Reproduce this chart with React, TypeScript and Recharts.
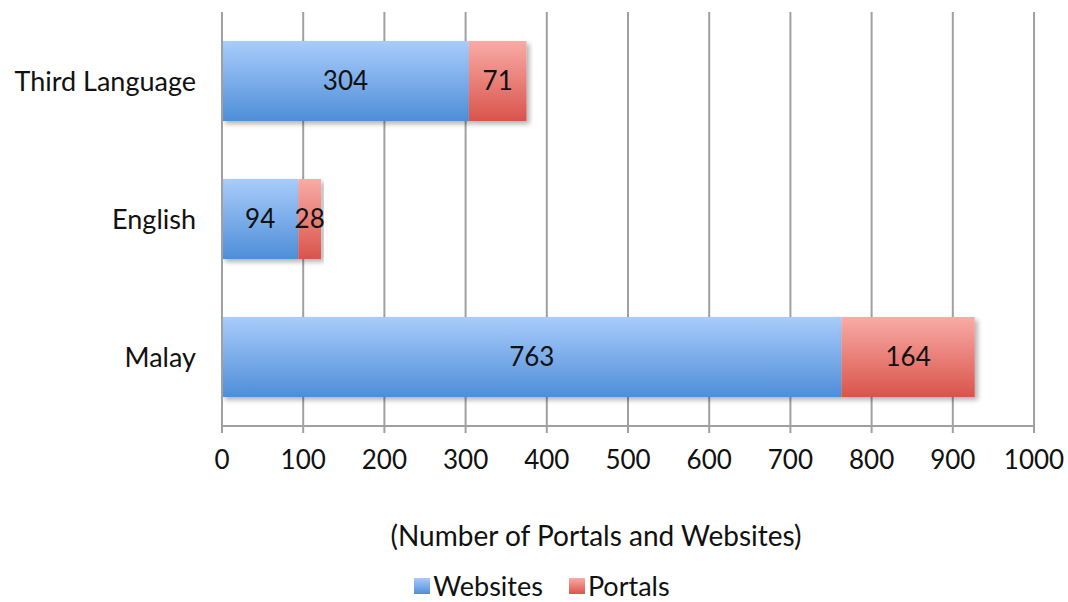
import React from "react";
import {
  BarChart,
  Bar,
  XAxis,
  YAxis,
  CartesianGrid,
  Legend,
  LabelList,
} from "recharts";

// Categories top to bottom
const languages = ["Third Language", "English", "Malay"];
const websites = [304, 94, 763];
const portals = [71, 28, 164];
const xTicks = [0, 100, 200, 300, 400, 500, 600, 700, 800, 900, 1000];

const data = languages.map((name, i) => ({
  name,
  websites: websites[i],
  portals: portals[i],
}));

const FONT = "Lato, 'Open Sans', sans-serif";
const GRID = "#a0a0a0";

const LegendContent = () => (
  <div
    style={{
      display: "flex",
      justifyContent: "center",
      alignItems: "center",
      fontFamily: FONT,
      fontSize: 27,
      color: "#111",
      paddingLeft: 50,
      paddingTop: 13,
    }}
  >
    <span
      style={{
        width: 16,
        height: 16,
        display: "inline-block",
        background: "linear-gradient(#a8cbfb, #4f8fd8)",
        marginRight: 3,
      }}
    />
    <span style={{ marginRight: 26 }}>Websites</span>
    <span
      style={{
        width: 16,
        height: 16,
        display: "inline-block",
        background: "linear-gradient(#f9aba6, #d9544b)",
        marginRight: 3,
      }}
    />
    <span>Portals</span>
  </div>
);

export default function App() {
  return (
    <div style={{ position: "absolute", left: 0, top: 0, background: "#fff" }}>
      <BarChart
        width={1068}
        height={602}
        layout="vertical"
        data={data}
        margin={{ top: 12, right: 34, left: 0, bottom: 0 }}
        barSize={80}
      >
        <defs>
          <linearGradient id="gradWeb" x1="0" y1="0" x2="0" y2="1">
            <stop offset="0%" stopColor="#a9ccfb" />
            <stop offset="100%" stopColor="#4e8ed8" />
          </linearGradient>
          <linearGradient id="gradPortal" x1="0" y1="0" x2="0" y2="1">
            <stop offset="0%" stopColor="#f9aba6" />
            <stop offset="100%" stopColor="#d9544b" />
          </linearGradient>
          <filter id="barShadow" x="-5%" y="-10%" width="115%" height="130%">
            <feDropShadow dx="3" dy="3" stdDeviation="2.5" floodColor="#000" floodOpacity="0.3" />
          </filter>
        </defs>
        <CartesianGrid horizontal={false} stroke={GRID} strokeWidth={2} />
        <XAxis
          type="number"
          domain={[0, 1000]}
          ticks={xTicks}
          interval={0}
          height={130}
          axisLine={{ stroke: GRID, strokeWidth: 2 }}
          tickLine={{ stroke: GRID, strokeWidth: 2 }}
          tickSize={7}
          tickMargin={18}
          tick={{ fill: "#111", fontSize: 26, fontFamily: FONT }}
          label={{
            value: "(Number of Portals and Websites)",
            position: "insideBottom",
            offset: 10,
            dx: -32,
            fill: "#111",
            fontSize: 28,
            fontFamily: FONT,
          }}
        />
        <YAxis
          type="category"
          dataKey="name"
          width={222}
          axisLine={{ stroke: GRID, strokeWidth: 2 }}
          tickLine={false}
          tickSize={0}
          tickMargin={26}
          tick={{ fill: "#111", fontSize: 27, fontFamily: FONT }}
        />
        <Legend verticalAlign="bottom" height={46} content={<LegendContent />} />
        <Bar
          dataKey="websites"
          name="Websites"
          stackId="a"
          fill="url(#gradWeb)"
          filter="url(#barShadow)"
          isAnimationActive={false}
        >
          <LabelList
            dataKey="websites"
            position="center"
            fill="#111"
            fontSize={26}
            fontFamily={FONT}
          />
        </Bar>
        <Bar
          dataKey="portals"
          name="Portals"
          stackId="a"
          fill="url(#gradPortal)"
          filter="url(#barShadow)"
          isAnimationActive={false}
        >
          <LabelList
            dataKey="portals"
            position="center"
            fill="#111"
            fontSize={26}
            fontFamily={FONT}
          />
        </Bar>
      </BarChart>
    </div>
  );
}
